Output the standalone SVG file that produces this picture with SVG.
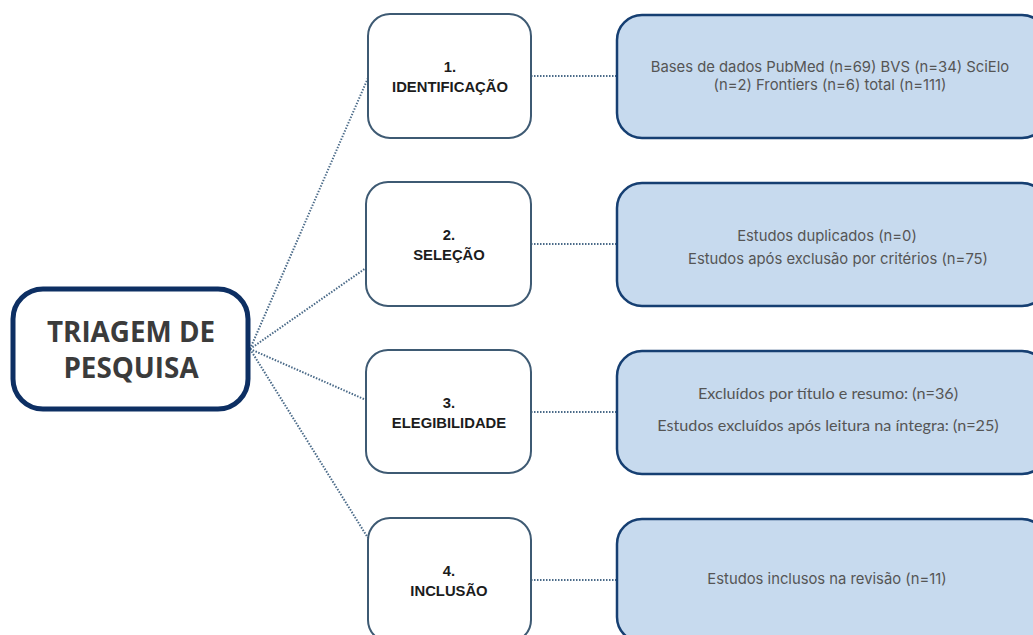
<svg xmlns="http://www.w3.org/2000/svg" width="1033" height="635" viewBox="0 0 1033 635">
<style>
.main{fill:#fff;stroke:#0d2f63;stroke-width:5}
.step{fill:#fff;stroke:#3e5a73;stroke-width:2}
.det{fill:#c7daee;stroke:#163f72;stroke-width:2.5}
.mt{font-family:"Open Sans","Liberation Sans",sans-serif;font-weight:bold;font-size:27.8px;fill:#3b3b3b;text-anchor:middle}
.st{font-family:"Liberation Sans",Arial,sans-serif;font-weight:bold;font-size:14.8px;fill:#1c1c1c;text-anchor:middle}
.dt{font-family:Inter,"Liberation Sans",sans-serif;font-size:14.8px;fill:#555;text-anchor:middle}
.dt2{font-family:Lato,"Liberation Sans",sans-serif;font-size:16.2px;fill:#555;text-anchor:middle}
.con{fill:none;stroke:#4a6a88;stroke-width:2;stroke-dasharray:1.5 1.5}
</style>
<rect width="1033" height="635" fill="#fff"/>
<g id="connectors">
<line class="con" x1="250" y1="349" x2="368" y2="78"/>
<line class="con" x1="250" y1="349" x2="366" y2="268"/>
<line class="con" x1="250" y1="349" x2="366" y2="400"/>
<line class="con" x1="250" y1="349" x2="368" y2="538"/>
<line class="con" x1="531" y1="76" x2="616" y2="76"/>
<line class="con" x1="531" y1="244" x2="616" y2="244"/>
<line class="con" x1="531" y1="412" x2="616" y2="412"/>
<line class="con" x1="531" y1="580" x2="616" y2="580"/>
</g>
<g id="main">
<rect class="main" x="13" y="289" width="235" height="120" rx="30"/>
<text class="mt" x="131" y="342">TRIAGEM DE</text>
<text class="mt" x="131" y="378">PESQUISA</text>
</g>
<g id="step1">
<rect class="step" x="368" y="14" width="163" height="124" rx="22"/>
<text class="st" x="450" y="72">1.</text>
<text class="st" x="450" y="92">IDENTIFICAÇÃO</text>
</g>
<g id="step2">
<rect class="step" x="366" y="182" width="165" height="124" rx="22"/>
<text class="st" x="449" y="240">2.</text>
<text class="st" x="449" y="260">SELEÇÃO</text>
</g>
<g id="step3">
<rect class="step" x="366" y="350" width="165" height="123" rx="22"/>
<text class="st" x="449" y="408">3.</text>
<text class="st" x="449" y="428">ELEGIBILIDADE</text>
</g>
<g id="step4">
<rect class="step" x="368" y="518" width="163" height="124" rx="22"/>
<text class="st" x="449" y="576">4.</text>
<text class="st" x="449" y="596">INCLUSÃO</text>
</g>
<g id="det1">
<rect class="det" x="617" y="15" width="430" height="123" rx="25"/>
<text class="dt" x="830" y="72">Bases de dados PubMed (n=69) BVS (n=34) SciElo</text>
<text class="dt" x="830" y="90">(n=2) Frontiers (n=6) total (n=111)</text>
</g>
<g id="det2">
<rect class="det" x="617" y="183" width="430" height="123" rx="25"/>
<text class="dt" x="827" y="241">Estudos duplicados (n=0)</text>
<text class="dt" x="838" y="264">Estudos após exclusão por critérios (n=75)</text>
</g>
<g id="det3">
<rect class="det" x="617" y="351" width="430" height="123" rx="25"/>
<text class="dt2" x="828" y="399">Excluídos por título e resumo: (n=36)</text>
<text class="dt2" x="828" y="431">Estudos excluídos após leitura na íntegra: (n=25)</text>
</g>
<g id="det4">
<rect class="det" x="617" y="519" width="430" height="123" rx="25"/>
<text class="dt" x="827" y="584">Estudos inclusos na revisão (n=11)</text>
</g>
</svg>
